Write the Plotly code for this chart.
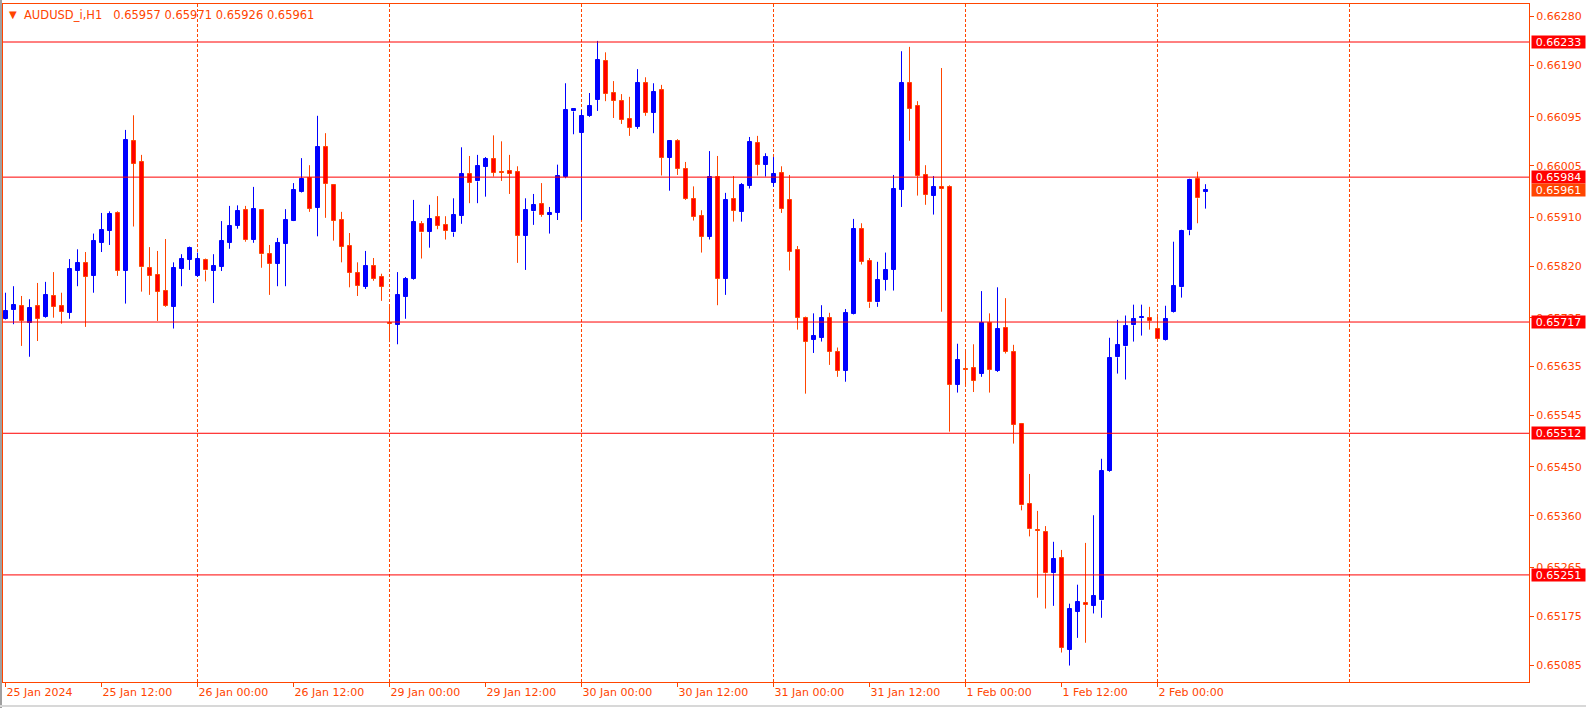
import plotly.graph_objects as go

# ---------------- data (AUDUSD_i, H1) ----------------
opens = [0.65722,0.65739,0.65746,0.65716,0.65746,0.65727,0.65765,0.65746,0.65734,0.65811,
         0.65826,0.65802,0.65863,0.65885,0.65918,0.65811,0.66050,0.66012,0.65816,0.65804,
         0.65774,0.65745,0.65815,0.65832,0.65802,0.65832,0.65811,0.65819,0.65863,0.65894,
         0.65923,0.65868,0.65923,0.65842,0.65824,0.65861,0.65904,0.65956,0.65983,0.65928,
         0.66039,0.65969,0.65905,0.65857,0.65807,0.65782,0.65820,0.65800,0.65715,0.65712,
         0.65764,0.65797,0.65897,0.65883,0.65910,0.65896,0.65882,0.65913,0.65990,0.65976,
         0.66003,0.66017,0.65993,0.65995,0.65993,0.65876,0.65921,0.65934,0.65915,0.65918,
         0.65984,0.66105,0.66066,0.66097,0.66126,0.66198,0.66139,0.66124,0.66091,0.66077,
         0.66157,0.66103,0.66144,0.66020,0.66050,0.65999,0.65944,0.65912,0.65874,0.65984,
         0.65797,0.65944,0.65920,0.65968,0.66047,0.66007,0.65974,0.65991,0.65942,0.65850,
         0.65725,0.65684,0.65688,0.65725,0.65662,0.65627,0.65732,0.65888,0.65830,0.65753,
         0.65795,0.65813,0.65961,0.66157,0.66115,0.65988,0.65950,0.65965,0.65966,0.65601,
         0.65630,0.65632,0.65622,0.65715,0.65627,0.65706,0.65662,0.65529,0.65382,0.65334,
         0.65330,0.65254,0.65282,0.65113,0.65183,0.65199,0.65194,0.65204,0.65443,0.65652,
         0.65672,0.65711,0.65724,0.65725,0.65705,0.65683,0.65735,0.65781,0.65886,0.65981,
         0.65957]
highs = [0.65771,0.65783,0.65765,0.65759,0.65789,0.65791,0.65809,0.65771,0.65833,0.65851,
         0.65846,0.65880,0.65918,0.65921,0.65921,0.66071,0.66098,0.66025,0.65855,0.65848,
         0.65870,0.65827,0.65842,0.65856,0.65845,0.65834,0.65842,0.65903,0.65931,0.65932,
         0.65931,0.65966,0.65925,0.65859,0.65872,0.65925,0.65973,0.66019,0.66006,0.66097,
         0.66065,0.65970,0.65920,0.65881,0.65827,0.65848,0.65835,0.65806,0.65750,0.65809,
         0.65800,0.65942,0.65903,0.65933,0.65949,0.65912,0.65945,0.66039,0.66023,0.66025,
         0.66021,0.66061,0.66050,0.66025,0.66004,0.65945,0.65953,0.65973,0.65929,0.66007,
         0.66157,0.66111,0.66108,0.66139,0.66235,0.66214,0.66161,0.66137,0.66132,0.66183,
         0.66168,0.66157,0.66154,0.66052,0.66054,0.66012,0.65967,0.65923,0.66032,0.66023,
         0.65955,0.65986,0.65973,0.66058,0.66060,0.66028,0.66021,0.66004,0.65988,0.65857,
         0.65727,0.65733,0.65748,0.65734,0.65670,0.65741,0.65907,0.65899,0.65835,0.65828,
         0.65845,0.65988,0.66216,0.66224,0.66124,0.66006,0.65986,0.66185,0.65969,0.65677,
         0.65662,0.65676,0.65774,0.65733,0.65781,0.65761,0.65675,0.65531,0.65437,0.65369,
         0.65341,0.65312,0.65297,0.65198,0.65233,0.65310,0.65361,0.65465,0.65688,0.65721,
         0.65729,0.65749,0.65749,0.65745,0.65730,0.65747,0.65865,0.65887,0.65981,0.65994,
         0.65971]
lows = [0.65721,0.65713,0.65673,0.65653,0.65682,0.65725,0.65725,0.65714,0.65723,0.65783,
        0.65708,0.65771,0.65846,0.65859,0.65802,0.65751,0.65893,0.65773,0.65767,0.65719,
        0.65745,0.65705,0.65783,0.65813,0.65800,0.65792,0.65752,0.65811,0.65852,0.65889,
        0.65865,0.65863,0.65817,0.65767,0.65783,0.65783,0.65903,0.65955,0.65920,0.65875,
        0.65909,0.65867,0.65827,0.65781,0.65765,0.65778,0.65793,0.65756,0.65680,0.65676,
        0.65723,0.65795,0.65834,0.65854,0.65888,0.65869,0.65874,0.65898,0.65936,0.65936,
        0.65948,0.65985,0.65977,0.65953,0.65826,0.65813,0.65896,0.65911,0.65880,0.65905,
        0.65982,0.66063,0.65905,0.66095,0.66106,0.66124,0.66093,0.66082,0.66060,0.66073,
        0.66097,0.66065,0.65987,0.65959,0.65988,0.65942,0.65904,0.65845,0.65869,0.65748,
        0.65767,0.65902,0.65902,0.65963,0.65987,0.65985,0.65966,0.65918,0.65812,0.65703,
        0.65585,0.65660,0.65681,0.65638,0.65616,0.65607,0.65731,0.65823,0.65743,0.65745,
        0.65775,0.65775,0.65929,0.66051,0.65950,0.65933,0.65915,0.65736,0.65515,0.65587,
        0.65598,0.65588,0.65616,0.65587,0.65625,0.65659,0.65493,0.65370,0.65322,0.65209,
        0.65189,0.65194,0.65108,0.65084,0.65135,0.65126,0.65180,0.65172,0.65441,0.65622,
        0.65611,0.65681,0.65692,0.65703,0.65681,0.65682,0.65734,0.65762,0.65877,0.65899,
        0.65926]
closes = [0.65737,0.65748,0.65719,0.65743,0.65723,0.65767,0.65745,0.65736,0.65815,0.65826,
          0.65800,0.65866,0.65886,0.65916,0.65811,0.66052,0.66009,0.65818,0.65802,0.65773,
          0.65747,0.65816,0.65833,0.65853,0.65833,0.65812,0.65820,0.65866,0.65894,0.65921,
          0.65868,0.65925,0.65842,0.65824,0.65862,0.65905,0.65960,0.65980,0.65926,0.66039,
          0.65972,0.65904,0.65856,0.65808,0.65784,0.65820,0.65797,0.65782,0.65713,0.65767,
          0.65796,0.65901,0.65882,0.65907,0.65894,0.65885,0.65914,0.65990,0.65974,0.66004,
          0.66017,0.65992,0.65992,0.65990,0.65876,0.65923,0.65932,0.65915,0.65918,0.65986,
          0.66108,0.66109,0.66097,0.66115,0.66200,0.66138,0.66125,0.66090,0.66075,0.66157,
          0.66103,0.66141,0.66020,0.66050,0.65999,0.65944,0.65911,0.65874,0.65984,0.65797,
          0.65942,0.65922,0.65969,0.66049,0.66007,0.66021,0.65990,0.65926,0.65846,0.65725,
          0.65681,0.65692,0.65725,0.65662,0.65627,0.65733,0.65888,0.65828,0.65753,0.65795,
          0.65813,0.65962,0.66157,0.66110,0.65987,0.65952,0.65966,0.65963,0.65601,0.65647,
          0.65628,0.65609,0.65715,0.65629,0.65704,0.65662,0.65528,0.65379,0.65335,0.65332,
          0.65254,0.65280,0.65117,0.65188,0.65201,0.65196,0.65212,0.65443,0.65651,0.65675,
          0.65710,0.65723,0.65726,0.65719,0.65685,0.65723,0.65784,0.65885,0.65979,0.65945,
          0.65961]

date_ticks = [0, 12, 24, 36, 48, 60, 72, 84, 96, 108, 120, 132, 144]
date_labels = ["25 Jan 2024", "25 Jan 12:00", "26 Jan 00:00", "26 Jan 12:00",
               "29 Jan 00:00", "29 Jan 12:00", "30 Jan 00:00", "30 Jan 12:00",
               "31 Jan 00:00", "31 Jan 12:00", "1 Feb 00:00", "1 Feb 12:00",
               "2 Feb 00:00"]
grid_bars = [24, 48, 72, 96, 120, 144, 168]
price_ticks = [0.66280, 0.66190, 0.66095, 0.66005, 0.65910, 0.65820, 0.65725,
               0.65635, 0.65545, 0.65450, 0.65360, 0.65265, 0.65175, 0.65085]
hlines = [0.66233, 0.65984, 0.65717, 0.65512, 0.65251]
bid_price = 0.65961
header = "AUDUSD_i,H1\u00a0\u00a0 0.65957 0.65971 0.65926 0.65961"

# ---------------- styling ----------------
FG = "#FF4500"
BULL = "#0000FF"
BEAR_FILL = "#FF0000"
BEAR_LINE = "#FF4500"
FONT = "DejaVu Sans"

W, H = 1586, 708
L, R, T, B = 3, 57, 4, 26
PW = W - L - R
PH = H - T - B

n = len(opens)
xs = list(range(n))
bull = [i for i in xs if closes[i] >= opens[i]]
bear = [i for i in xs if closes[i] < opens[i]]


def wick_xy(idx):
    wx, wy = [], []
    for i in idx:
        top = max(opens[i], closes[i])
        bot = min(opens[i], closes[i])
        wx += [i, i, None, i, i, None]
        wy += [highs[i], top, None, bot, lows[i], None]
    return wx, wy


fig = go.Figure()
for idx, col in ((bull, BULL), (bear, BEAR_LINE)):
    wx, wy = wick_xy(idx)
    fig.add_trace(go.Scatter(x=wx, y=wy, mode="lines", line=dict(color=col, width=1),
                             hoverinfo="skip", showlegend=False))

fig.add_trace(go.Bar(x=bull, base=[opens[i] for i in bull],
                     y=[closes[i] - opens[i] for i in bull], width=0.5,
                     marker=dict(color=BULL, line=dict(color=BULL, width=1)),
                     hoverinfo="skip", showlegend=False))
fig.add_trace(go.Bar(x=bear, base=[closes[i] for i in bear],
                     y=[opens[i] - closes[i] for i in bear], width=0.5,
                     marker=dict(color=BEAR_FILL, line=dict(color=BEAR_LINE, width=1)),
                     hoverinfo="skip", showlegend=False))

shapes = []
for g in grid_bars:
    shapes.append(dict(type="line", xref="x", yref="paper", x0=g, x1=g, y0=0, y1=1,
                       line=dict(color=FG, width=1, dash="3px,2px"), layer="below"))
for p in hlines:
    shapes.append(dict(type="line", xref="paper", yref="y", x0=0, x1=1, y0=p, y1=p,
                       line=dict(color="#FF0000", width=1), layer="above"))
# window frame edges
shapes.append(dict(type="line", xref="paper", yref="paper",
                   x0=(1 - L) / PW, x1=(1 - L) / PW, y0=-1, y1=2,
                   line=dict(color="#A0A0A0", width=2)))
shapes.append(dict(type="line", xref="paper", yref="paper", x0=-1, x1=2,
                   y0=(PH + T - 706) / PH, y1=(PH + T - 706) / PH,
                   line=dict(color="#D8D8D8", width=2)))

annotations = []
for p in hlines:
    annotations.append(dict(xref="paper", yref="y", x=(1531 - L) / PW, y=p,
                            xanchor="left", yanchor="middle", text=f"{p:.5f}",
                            showarrow=False, bgcolor="#FF0000", width=53, height=12,
                            borderpad=0, align="center",
                            font=dict(family=FONT, size=11, color="white")))
annotations.append(dict(xref="paper", yref="y", x=(1531 - L) / PW, y=bid_price,
                        xanchor="left", yanchor="middle", text=f"{bid_price:.5f}",
                        showarrow=False, bgcolor=FG, width=53, height=12,
                        borderpad=0, align="center",
                        font=dict(family=FONT, size=11, color="white")))
annotations.append(dict(xref="paper", yref="paper", x=(22 - L) / PW,
                        y=(PH + T - 15) / PH, xanchor="left", yanchor="middle",
                        text=header, showarrow=False,
                        font=dict(family=FONT, size=11.5, color=FG)))
annotations.append(dict(xref="paper", yref="paper", x=(12.5 - L) / PW,
                        y=(PH + T - 15) / PH, xanchor="center", yanchor="middle",
                        text="\u25BC", showarrow=False,
                        font=dict(family=FONT, size=10, color=FG)))

xmin = -2.5 / 8
xmax = xmin + PW / 8
ytop = 0.66280 + (16.5 - T) / 54268
ybot = 0.66280 - (H - B - 16.5) / 54268

fig.update_layout(
    width=W, height=H,
    margin=dict(l=L, r=R, t=T, b=B, autoexpand=False),
    paper_bgcolor="white", plot_bgcolor="white",
    barmode="overlay", bargap=0,
    showlegend=False,
    shapes=shapes, annotations=annotations,
    font=dict(family=FONT, size=11, color=FG),
    xaxis=dict(range=[xmin, xmax], showgrid=False, zeroline=False,
               tickmode="array", tickvals=date_ticks, ticktext=date_labels,
               ticks="outside", ticklen=4, tickcolor=FG, tickwidth=1,
               ticklabelposition="outside right",
               tickfont=dict(family=FONT, size=11, color=FG),
               showline=True, mirror=True, linecolor=FG, linewidth=1,
               fixedrange=True),
    yaxis=dict(range=[ybot, ytop], side="right", showgrid=False, zeroline=False,
               tickmode="array", tickvals=price_ticks,
               ticktext=[f"{v:.5f}" for v in price_ticks],
               ticks="outside", ticklen=4, tickcolor=FG, tickwidth=1,
               tickfont=dict(family=FONT, size=11, color=FG),
               showline=True, mirror=True, linecolor=FG, linewidth=1,
               fixedrange=True),
)

fig.write_html(
    "out.html",
    config={"displayModeBar": False},
    post_script="document.body.style.margin='0px';document.body.style.overflow='hidden';",
)
